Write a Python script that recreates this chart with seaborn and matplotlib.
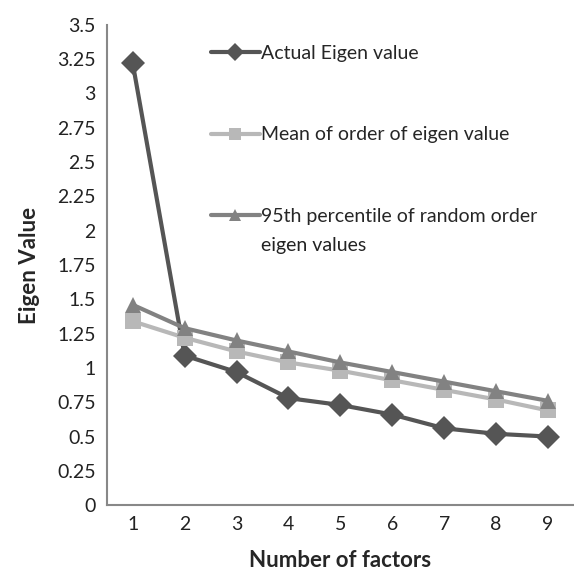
import pandas as pd
import matplotlib.pyplot as plt
import seaborn as sns
from matplotlib.ticker import FuncFormatter

# chart values
factors = [1, 2, 3, 4, 5, 6, 7, 8, 9]
actual_eigen = [3.22, 1.09, 0.97, 0.78, 0.73, 0.66, 0.56, 0.52, 0.50]
mean_eigen = [1.34, 1.22, 1.12, 1.04, 0.98, 0.91, 0.84, 0.77, 0.69]
pct95_eigen = [1.46, 1.29, 1.20, 1.12, 1.04, 0.97, 0.90, 0.83, 0.76]
series_names = [
    "Actual Eigen value",
    "Mean of order of eigen value",
    "95th percentile of random order",
]

df = pd.DataFrame({
    "factor": factors * 3,
    "value": actual_eigen + mean_eigen + pct95_eigen,
    "series": [series_names[0]] * 9 + [series_names[1]] * 9 + [series_names[2]] * 9,
})

sns.set_style("white")
plt.rcParams["font.family"] = ["Lato", "DejaVu Sans"]

fig = plt.figure(figsize=(5.74, 5.78), dpi=100)
ax = fig.add_axes([0.186, 0.126, 0.814, 0.831])

colors = {
    series_names[0]: "#555555",
    series_names[1]: "#b8b8b8",
    series_names[2]: "#828282",
}
markers = {
    series_names[0]: "D",
    series_names[1]: "s",
    series_names[2]: "^",
}

sns.lineplot(
    data=df,
    x="factor",
    y="value",
    hue="series",
    style="series",
    palette=colors,
    markers=markers,
    dashes=False,
    linewidth=3,
    markersize=12,
    markeredgewidth=0,
    ax=ax,
)

ax.set_xlim(0.5, 9.5)
ax.set_ylim(0, 3.5)
ax.set_xticks(factors)
ax.set_yticks([i * 0.25 for i in range(15)])
ax.yaxis.set_major_formatter(FuncFormatter(lambda v, p: f"{v:g}"))
ax.tick_params(axis="both", length=0, labelsize=14, colors="#222222", pad=8)

for side in ["top", "right"]:
    ax.spines[side].set_visible(False)
for side in ["left", "bottom"]:
    ax.spines[side].set_color("#888888")
    ax.spines[side].set_linewidth(1.5)

ax.set_xlabel("Number of factors", fontsize=16, fontweight="bold", labelpad=12)
ax.set_ylabel("Eigen Value", fontsize=16, fontweight="bold", labelpad=12)

handles, labels = ax.get_legend_handles_labels()
leg = ax.legend(
    handles,
    labels,
    loc="upper left",
    bbox_to_anchor=(0.337, 0.952),
    bbox_transform=fig.transFigure,
    frameon=False,
    fontsize=14,
    labelspacing=3.3,
    handlelength=2.5,
    handletextpad=0.1,
)
for h in leg.legend_handles:
    h.set_markersize(9)

# second line of the third legend label, placed under the first line
fig.canvas.draw()
bb = leg.get_texts()[2].get_window_extent()
fig.text(
    bb.x0 / fig.bbox.width,
    (bb.y0 - 12) / fig.bbox.height,
    "eigen values",
    va="top",
    ha="left",
    fontsize=14,
    color="#222222",
)

fig.savefig("out.png", dpi=100)
